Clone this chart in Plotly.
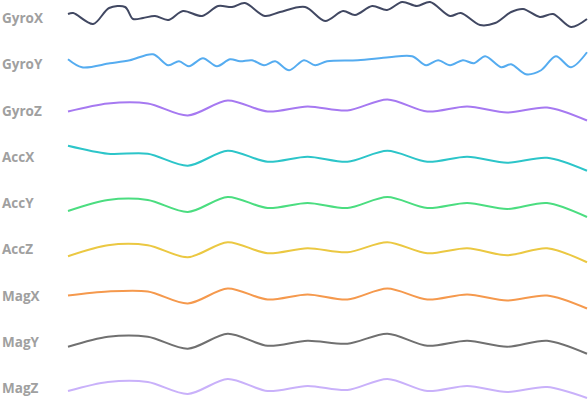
import plotly.graph_objects as go

# ---- data -------------------------------------------------------------
labels = ["GyroX", "GyroY", "GyroZ", "AccX", "AccY", "AccZ", "MagX", "MagY", "MagZ"]
colors = ["#414862", "#55acf0", "#a679f1", "#2cc5c9", "#4bdd80",
          "#ebc842", "#f5994d", "#707070", "#c9b1fa"]

# high-rate gyro samples (time index, value)
gyro_x_t = [0, 0.13, 0.63, 1.03, 1.43, 1.63, 1.88, 2.18, 2.51, 2.88, 3.36, 3.76, 4.11,
            4.43, 4.93, 5.31, 5.94, 6.44, 6.89, 7.19, 7.62, 7.99, 8.37, 8.74, 9.07,
            9.57, 9.84, 10.32, 10.70, 11.10, 11.40, 11.82, 12.15, 12.60, 13.0]
gyro_x = [4, 5, -6, 10, 11, -1, 0, 2, -2, 7, 2, 12, 11, 15, 2, 6, 11, -3, 7, 3, 12, 8,
          16, 12, 16, 2, 5, -7, -5, 6, 9, 1, 4, -9, -1]

gyro_y_t = [0, 0.35, 1.05, 1.55, 2.13, 2.51, 2.78, 3.03, 3.38, 3.73, 4.06, 4.31, 4.61,
            4.91, 5.19, 5.54, 5.91, 6.19, 6.49, 7.26, 8.04, 8.62, 8.97, 9.27, 9.57,
            9.89, 10.17, 10.45, 10.85, 11.10, 11.47, 11.85, 12.22, 12.60, 13.0]
gyro_y = [5, -3, 1, 4, 10, -1, 3, -2, 6, -2, 5, 3, 4, -1, 3, -6, 4, -1, 3, 4, 7, 8, -1,
          4, -1, 4, 1, 8, -3, 0, -10, -6, 8, -3, 12]

# low-rate samples
t_low = list(range(14))
gyro_z = [-1, 7, 7, -5, 10, -1, 4, 0, 11, -1, 4, -2, 3, -10]
acc_x = [11, 3, 3, -9, 6, -5, 0, -5, 6, -5, 0, -6, -1, -14]
acc_y = [-8, 3, 3, -9, 6, -5, 0, -5, 6, -5, 0, -6, 0, -14]
acc_z = [-7, 4, 4, -8, 7, -4, 1, -3, 7, -4, 1, -6, 1, -13]
mag_x = [0, 4, 4, -8, 7, -4, 1, -4, 7, -4, 1, -5, 0, -13]
mag_y = [-5, 5, 5, -7, 8, -4, 1, -2, 8, -4, 1, -5, 1, -12]
mag_z = [-3, 6, 6, -6, 9, -3, 2, -2, 9, -3, 2, -4, 1, -10]

series = [
    (gyro_x_t, gyro_x), (gyro_y_t, gyro_y), (t_low, gyro_z),
    (t_low, acc_x), (t_low, acc_y), (t_low, acc_z),
    (t_low, mag_x), (t_low, mag_y), (t_low, mag_z),
]

# ---- figure -----------------------------------------------------------
W, H = 588, 401
row0, row_gap = 18, 46.25

fig = go.Figure()
for k, ((t, v), name, col) in enumerate(zip(series, labels, colors)):
    base = -(row0 + row_gap * k)
    fig.add_trace(go.Scatter(
        x=t, y=[base + val for val in v], mode="lines", name=name,
        line=dict(color=col, width=2, shape="spline",
                  smoothing=0.9 if k < 2 else 0.85),
        hoverinfo="skip",
    ))
    fig.add_annotation(
        x=0, xref="paper", xanchor="left",
        y=base, yref="y", yanchor="middle",
        text=f"<b>{name}</b>", showarrow=False,
        font=dict(family="Open Sans", size=13.5, color="#a0a0a0"),
    )

# x range chosen so index 0 sits at 68 px and 13 at 587 px
span = 13 * W / 519.0
x0 = -68 * span / W
fig.update_xaxes(range=[x0, x0 + span], visible=False)
fig.update_yaxes(range=[-H, 0], visible=False)
fig.update_layout(
    width=W, height=H, margin=dict(l=0, r=0, t=0, b=0),
    paper_bgcolor="white", plot_bgcolor="white", showlegend=False,
)
fig.write_html(
    "out.html",
    config={"displayModeBar": False},
    post_script="document.body.style.margin='0';document.body.style.overflow='hidden';",
)
